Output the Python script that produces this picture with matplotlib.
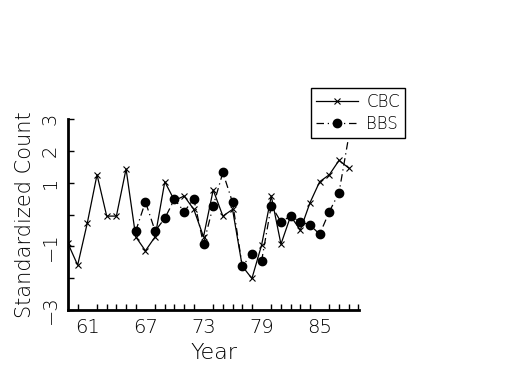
import matplotlib
matplotlib.use("Agg")
import matplotlib.pyplot as plt

plt.rcParams["font.family"] = ["DejaVu Sans"]
plt.rcParams["font.weight"] = "light"
plt.rcParams["axes.labelweight"] = "light"

# ===== data =====
years_cbc = list(range(59, 89))
cbc = [-0.91, -1.59, -0.26, 1.25, -0.05, -0.05, 1.43, -0.70, -1.14, -0.70,
       1.03, 0.44, 0.58, 0.16, -0.70, 0.77, -0.05, 0.16, -1.62, -2.01,
       -0.96, 0.58, -0.93, -0.05, -0.49, 0.37, 1.03, 1.25, 1.70, 1.46]

years_bbs = list(range(66, 89))
bbs = [-0.52, 0.40, -0.52, -0.12, 0.48, 0.09, 0.49, -0.93, 0.27, 1.32,
       0.38, -1.62, -1.25, -1.46, 0.28, -0.23, -0.05, -0.23, -0.33, -0.62,
       0.09, 0.69, 2.45]

xtick_labels = [61, 67, 73, 79, 85]
ytick_vals = [-3, -2, -1, 0, 1, 2, 3]
ytick_labels = ["\u22123", "", "\u22121", "", "1", "2", "3"]

# ===== figure =====
fig = plt.figure(figsize=(5.25, 3.75), dpi=100)
ax = fig.add_axes([0.1295, 0.1733, 0.555, 0.5094])

ax.plot(years_cbc, cbc, color="black", lw=0.9, marker="x", ms=4, mew=0.8,
        label="CBC")
ax.plot(years_bbs, bbs, color="black", lw=0.9, ls=(0, (6, 3, 1, 3)),
        marker="o", ms=6, markevery=list(range(len(bbs) - 1)), label="BBS")

ax.set_xlim(59, 89.1)
ax.set_ylim(-3, 3)
ax.set_xticks(xtick_labels)
ax.set_xticklabels([str(v) for v in xtick_labels])
ax.set_xticks(range(60, 90), minor=True)
ax.set_yticks(ytick_vals)
ax.set_yticklabels(ytick_labels, rotation=90, va="center")

for s in ["top", "right"]:
    ax.spines[s].set_visible(False)
for s in ["left", "bottom"]:
    ax.spines[s].set_linewidth(2)
ax.tick_params(direction="in", length=4, width=1, labelsize=14, pad=6)
ax.tick_params(which="minor", direction="in", length=4, width=1)
ax.tick_params(axis="x", which="major", length=0)

ax.set_xlabel("Year", fontsize=16, fontweight="light")
ax.set_ylabel("Standardized Count", fontsize=15, fontweight="light")

leg = fig.legend(loc="upper left", bbox_to_anchor=(0.577, 0.787),
                 frameon=True, fancybox=False, edgecolor="black",
                 framealpha=1, fontsize=12, numpoints=1, handlelength=2.5,
                 borderpad=0.3, labelspacing=0.2, handletextpad=0.5)
leg.get_frame().set_linewidth(1)

fig.savefig("out.png", dpi=100)
